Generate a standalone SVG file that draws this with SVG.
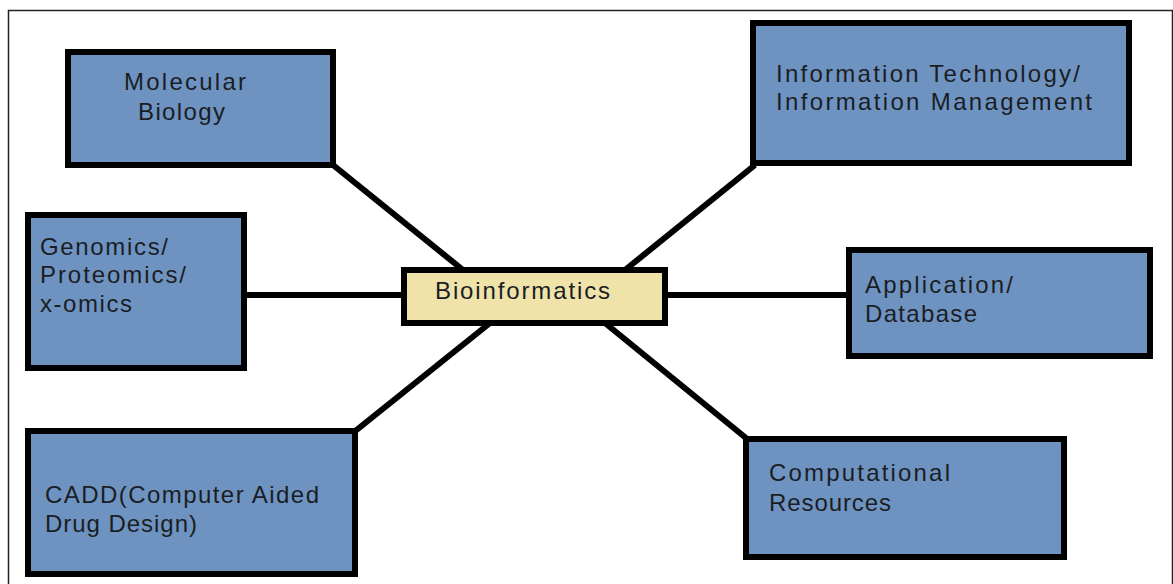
<svg xmlns="http://www.w3.org/2000/svg" width="1173" height="584" viewBox="0 0 1173 584">
<style>
.box{fill:#6F93C1;stroke:#000;stroke-width:6}
.core{fill:#F0E3AA;stroke:#000;stroke-width:6}
.lbl{font-family:"Liberation Sans",Arial,sans-serif;font-size:24px;fill:#1a1e24}
.conn line{stroke:#000;stroke-width:6;stroke-linecap:butt}
</style>
<rect x="0" y="0" width="1173" height="584" fill="#fff"/>
<rect x="8.5" y="10.5" width="1164" height="580" fill="none" stroke="#222" stroke-width="1.5"/>
<g id="connectors" class="conn">
<line x1="333" y1="165" x2="463" y2="270"/>
<line x1="755" y1="165" x2="625" y2="270"/>
<line x1="247" y1="295" x2="401" y2="295"/>
<line x1="668" y1="295" x2="846" y2="295"/>
<line x1="490" y1="323" x2="354" y2="432"/>
<line x1="605" y1="323" x2="746" y2="438"/>
</g>
<g id="molecular-biology">
<rect class="box" x="68" y="52" width="265" height="113"/>
<text class="lbl" x="124" y="90" textLength="122" lengthAdjust="spacing">Molecular</text>
<text class="lbl" x="138" y="120" textLength="87" lengthAdjust="spacing">Biology</text>
</g>
<g id="information-technology">
<rect class="box" x="753" y="23" width="376" height="140"/>
<text class="lbl" x="776" y="82" textLength="304" lengthAdjust="spacing">Information Technology/</text>
<text class="lbl" x="776" y="110" textLength="316" lengthAdjust="spacing">Information Management</text>
</g>
<g id="genomics">
<rect class="box" x="28" y="215" width="216" height="153"/>
<text class="lbl" x="40" y="255" textLength="128" lengthAdjust="spacing">Genomics/</text>
<text class="lbl" x="40" y="283" textLength="146" lengthAdjust="spacing">Proteomics/</text>
<text class="lbl" x="40" y="312" textLength="92" lengthAdjust="spacing">x-omics</text>
</g>
<g id="bioinformatics">
<rect class="core" x="404" y="270" width="261" height="53"/>
<text class="lbl" x="435" y="299" textLength="175" lengthAdjust="spacing">Bioinformatics</text>
</g>
<g id="application-database">
<rect class="box" x="849" y="250" width="301" height="106"/>
<text class="lbl" x="865" y="293" textLength="148" lengthAdjust="spacing">Application/</text>
<text class="lbl" x="865" y="322" textLength="112" lengthAdjust="spacing">Database</text>
</g>
<g id="cadd">
<rect class="box" x="28" y="431" width="327" height="143"/>
<text class="lbl" x="45" y="503" textLength="274" lengthAdjust="spacing">CADD(Computer Aided</text>
<text class="lbl" x="45" y="532" textLength="152" lengthAdjust="spacing">Drug Design)</text>
</g>
<g id="computational-resources">
<rect class="box" x="746" y="439" width="318" height="118"/>
<text class="lbl" x="769" y="481" textLength="181" lengthAdjust="spacing">Computational</text>
<text class="lbl" x="769" y="511" textLength="122" lengthAdjust="spacing">Resources</text>
</g>
</svg>
